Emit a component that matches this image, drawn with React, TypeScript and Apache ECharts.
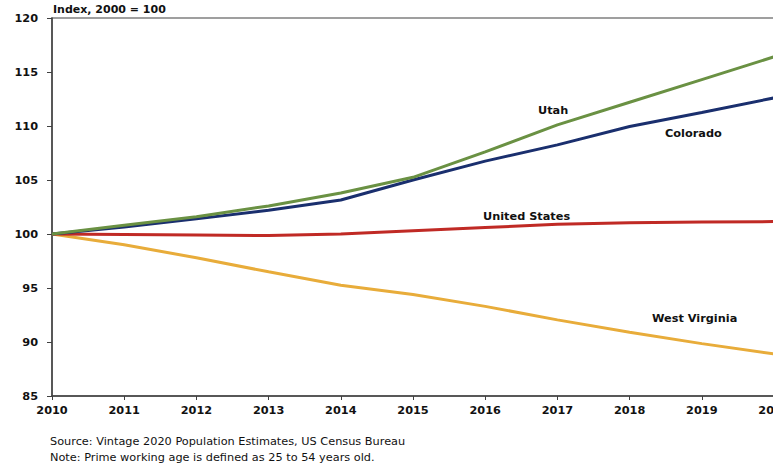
import React, { useEffect, useRef } from "react";
import * as echarts from "echarts";

const years = ["2010", "2011", "2012", "2013", "2014", "2015", "2016", "2017", "2018", "2019", "2020"];
const utah = [100, 100.8, 101.6, 102.6, 103.8, 105.25, 107.6, 110.1, 112.2, 114.3, 116.4];
const colorado = [100, 100.65, 101.4, 102.2, 103.15, 105.0, 106.75, 108.25, 109.95, 111.25, 112.6];
const unitedStates = [100, 99.95, 99.9, 99.85, 100.0, 100.3, 100.6, 100.9, 101.05, 101.1, 101.15];
const westVirginia = [100, 99.0, 97.8, 96.5, 95.25, 94.4, 93.3, 92.05, 90.9, 89.85, 88.9];

const FONT = "DejaVu Sans";

export default function App() {
  const ref = useRef<HTMLDivElement>(null);
  useEffect(() => {
    if (!ref.current) return;
    const chart = echarts.init(ref.current, null, { renderer: "svg" });
    const mk = (name: string, data: number[], color: string) => ({
      name,
      type: "line",
      data,
      symbol: "none",
      lineStyle: { color, width: 3 },
      itemStyle: { color },
      z: 3,
    });
    const lbl = (text: string, x: number, y: number) => ({
      type: "text",
      left: x,
      top: y,
      style: { text, font: `bold 11.3px "${FONT}"`, fill: "#111" },
    });
    chart.setOption({
      animation: false,
      grid: {
        left: 52,
        top: 18,
        right: -1,
        bottom: 67,
        outerBoundsMode: "none",
        containLabel: false,
        show: true,
        borderColor: "#808080",
        borderWidth: 1.5,
      },
      title: {
        text: "Index, 2000 = 100",
        left: 53,
        top: 4,
        padding: 0,
        textStyle: { fontFamily: FONT, fontWeight: "bold", fontSize: 11, color: "#111" },
      },
      xAxis: {
        type: "category",
        data: years,
        boundaryGap: false,
        axisLine: { lineStyle: { color: "#404040", width: 1.5 } },
        axisTick: { show: true, length: 4, inside: false, lineStyle: { color: "#404040" } },
        axisLabel: { fontFamily: FONT, fontWeight: "bold", fontSize: 11.3, color: "#111", margin: 9, hideOverlap: false },
        splitLine: { show: false },
      },
      yAxis: {
        type: "value",
        min: 85,
        max: 120,
        interval: 5,
        axisLine: { show: true, lineStyle: { color: "#404040", width: 1.5 } },
        axisTick: { show: true, length: 5, lineStyle: { color: "#404040" } },
        axisLabel: { fontFamily: FONT, fontWeight: "bold", fontSize: 11.3, color: "#111", margin: 14 },
        splitLine: { show: false },
      },
      series: [
        mk("West Virginia", westVirginia, "#e8ac3a"),
        mk("United States", unitedStates, "#c02a25"),
        mk("Colorado", colorado, "#1a2f6e"),
        mk("Utah", utah, "#6a9143"),
      ],
      graphic: [
        lbl("Utah", 538, 105),
        lbl("Colorado", 665, 128),
        lbl("United States", 483, 211),
        lbl("West Virginia", 652, 313),
        {
          type: "text",
          left: 50,
          top: 433,
          style: {
            text: "Source: Vintage 2020 Population Estimates, US Census Bureau\nNote: Prime working age is defined as 25 to 54 years old.",
            font: `11.3px "${FONT}"`,
            fill: "#111",
            lineHeight: 16,
          },
        },
      ],
    });
    return () => chart.dispose();
  }, []);
  return (
    <div
      ref={ref}
      style={{ position: "fixed", left: 0, top: 0, width: 773, height: 463, background: "#fff" }}
    />
  );
}
